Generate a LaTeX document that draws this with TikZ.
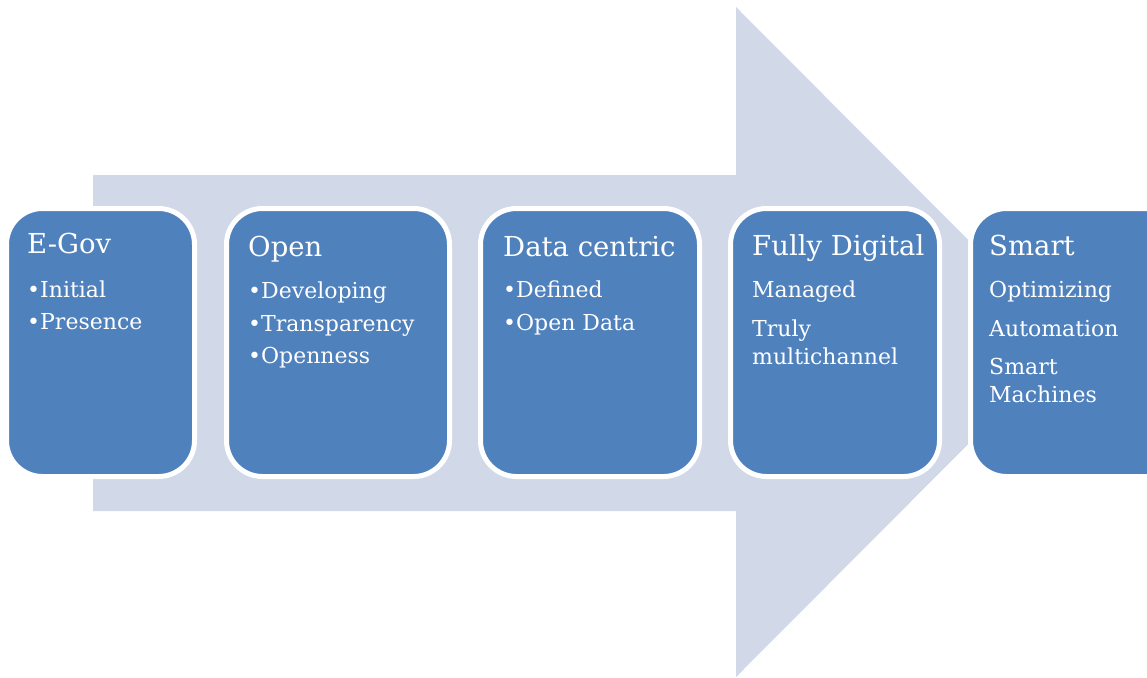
\documentclass[tikz,border=0pt]{standalone}
\usepackage{fontspec}
\setmainfont{DejaVu Serif}
\definecolor{boxblue}{RGB}{79,129,189}
\definecolor{arrowgray}{RGB}{209,216,232}
\begin{document}
\begin{tikzpicture}[x=1pt,y=-1pt,
  stage/.style={fill=boxblue,draw=white,line width=5pt,rounded corners=36pt,anchor=north west,minimum height=268pt,inner sep=0pt,outer sep=0pt},
  ttl/.style={anchor=base west,text=white,inner sep=0pt,font=\fontsize{27.5}{32}\selectfont},
  itm/.style={anchor=base west,text=white,inner sep=0pt,font=\fontsize{22}{26}\selectfont}]
\useasboundingbox (0,0) rectangle (1147,677);
\begin{scope}
\clip (0,0) rectangle (1147,677);
\fill[arrowgray] (93,175) -- (736,175) -- (736,7) -- (1070,342) -- (736,677) -- (736,511) -- (93,511) -- cycle;
\node[stage,minimum width=188pt] (b1) at (6.5,208.5) {};
\node[stage,minimum width=223pt] (b2) at (226.5,208.5) {};
\node[stage,minimum width=219pt] (b3) at (480.5,208.5) {};
\node[stage,minimum width=209pt] (b4) at (730.5,208.5) {};
\node[stage,minimum width=225pt] (b5) at (970.5,208.5) {};
\end{scope}
% box 1
\node[ttl] (t1) at (27,253) {E-Gov};
\node[itm] (i11) at (27,297) {•Initial};
\node[itm] (i12) at (27,329) {•Presence};
% box 2
\node[ttl] (t2) at (248,256) {Open};
\node[itm] (i21) at (248,298) {•Developing};
\node[itm] (i22) at (248,331) {•Transparency};
\node[itm] (i23) at (248,363) {•Openness};
% box 3
\node[ttl] (t3) at (503,256) {Data centric};
\node[itm] (i31) at (503,297) {•Defined};
\node[itm] (i32) at (503,330) {•Open Data};
% box 4
\node[ttl] (t4) at (752,255) {Fully Digital};
\node[itm] (i41) at (752,297) {Managed};
\node[itm] (i42) at (752,336) {Truly};
\node[itm] (i43) at (752,364) {multichannel};
% box 5
\node[ttl] (t5) at (989,255) {Smart};
\node[itm] (i51) at (989,297) {Optimizing};
\node[itm] (i52) at (989,336) {Automation};
\node[itm] (i53) at (989,374) {Smart};
\node[itm] (i54) at (989,402) {Machines};
\end{tikzpicture}
\end{document}
